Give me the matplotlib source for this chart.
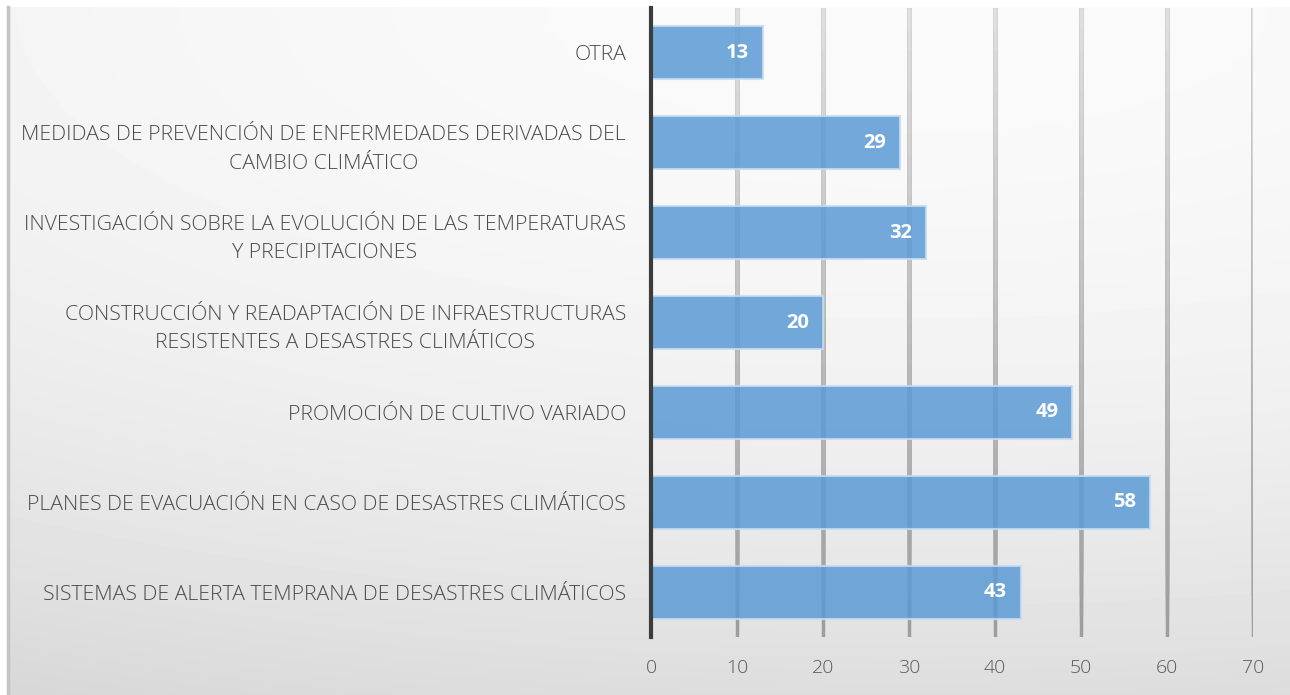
import numpy as np
import matplotlib.pyplot as plt
from matplotlib.collections import LineCollection

plt.rcParams['font.family'] = ['Open Sans', 'DejaVu Sans']

categorias = [
    'OTRA',
    'MEDIDAS DE PREVENCIÓN DE ENFERMEDADES DERIVADAS DEL\nCAMBIO CLIMÁTICO',
    'INVESTIGACIÓN SOBRE LA EVOLUCIÓN DE LAS TEMPERATURAS\nY PRECIPITACIONES',
    'CONSTRUCCIÓN Y READAPTACIÓN DE INFRAESTRUCTURAS\nRESISTENTES A DESASTRES CLIMÁTICOS',
    'PROMOCIÓN DE CULTIVO VARIADO',
    'PLANES DE EVACUACIÓN EN CASO DE DESASTRES CLIMÁTICOS',
    'SISTEMAS DE ALERTA TEMPRANA DE DESASTRES CLIMÁTICOS',
]
valores = [13, 29, 32, 20, 49, 58, 43]
ticks_x = [0, 10, 20, 30, 40, 50, 60, 70]

W, H = 1290, 695
fig = plt.figure(figsize=(W / 100, H / 100), dpi=100)

# fondo con degradado radial (claro arriba, gris abajo)
fondo = fig.add_axes([7 / W, 0, 1 - 7 / W, 1 - 7 / H], zorder=-10)
yy, xx = np.mgrid[0:688, 0:1283]
d2 = ((xx - 900) / 2000.0) ** 2 + (yy / 700.0) ** 2
gris = np.clip(250 - 30 * d2, 0, 255) / 255.0
fondo.imshow(gris, cmap='gray', vmin=0, vmax=1, aspect='auto', interpolation='bilinear')
fondo.axis('off')
fig.add_artist(plt.Line2D([7.5 / W, 7.5 / W], [0, 1 - 7 / H], color='#c4c4c4', lw=2.5))

ax = fig.add_axes([651 / W, 1 - 637 / H, (1253 - 651) / W, (637 - 8) / H])
ax.patch.set_alpha(0)

y = np.arange(len(categorias))
ax.barh(y, valores, height=0.59, color='#5b9bd5', alpha=0.85,
        edgecolor='#c6dcf0', linewidth=1.5, zorder=3)

for yi, v in zip(y, valores):
    ax.annotate(str(v), (v, yi), xytext=(-10, 0), textcoords='offset points',
                ha='right', va='center', color='white', fontsize=14.5,
                fontweight='bold', zorder=4)

ax.set_xlim(0, 70)
ax.set_ylim(len(categorias) - 0.5, -0.5)
ax.set_xticks(ticks_x)
ax.set_yticks(y)
ax.set_yticklabels(categorias, fontsize=15.3, color='#4a4a4a', linespacing=1.55,
                   fontweight='light')
for lbl in ax.get_yticklabels():
    lbl.set_multialignment('center')
ax.tick_params(axis='y', length=0, pad=18)
ax.tick_params(axis='x', length=0, pad=16, labelsize=14, labelcolor='#595959')
for lbl in ax.get_xticklabels():
    lbl.set_fontweight('light')

for lado in ['top', 'right', 'bottom']:
    ax.spines[lado].set_visible(False)
ax.spines['left'].set_color('#3c3c3c')
ax.spines['left'].set_linewidth(3)
ax.spines['left'].set_zorder(5)

# líneas de cuadrícula verticales, más oscuras hacia abajo:
# tramos superpuestos desde arriba, del más largo (oscuro) al más corto (claro)
n = 30
fines = np.linspace(len(categorias) - 0.5, -0.5, n + 1)[:-1]
tonos = np.linspace(0.62, 0.87, n)
for t in ticks_x[1:]:
    segs = [[(t, -0.5), (t, f)] for f in fines]
    lc = LineCollection(segs, colors=[(c, c, c) for c in tonos], linewidths=2.5,
                        capstyle='butt', zorder=1)
    ax.add_collection(lc)

fig.savefig('out.png', dpi=100)
